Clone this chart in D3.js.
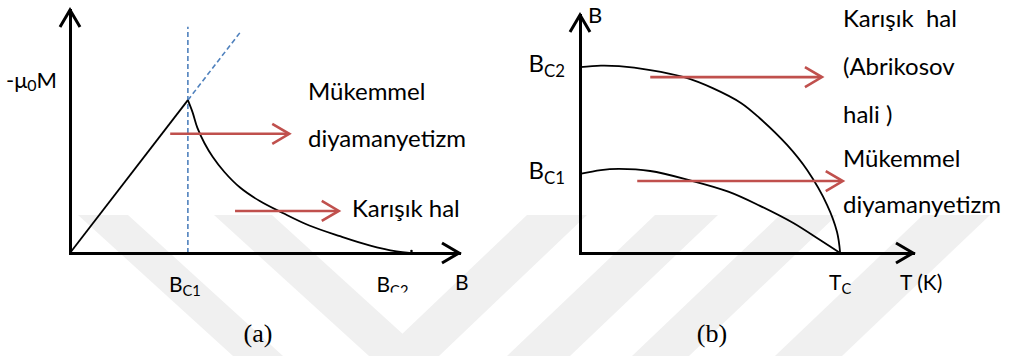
<!DOCTYPE html>
<html>
<head>
<meta charset="utf-8">
<script src="https://cdn.jsdelivr.net/npm/d3@7"></script>
<style>
  html, body { margin: 0; padding: 0; background: #fff; }
  svg { display: block; }
</style>
</head>
<body>
<svg id="chart" width="1010" height="356"></svg>
<script>
// ---------- (a) magnetisation -mu0 M versus applied field B ----------
const magMeissnerB = [0, 1];
const magMeissnerM = [0, 1];
const magMixedB = [1.00, 1.04, 1.08, 1.14, 1.21, 1.31, 1.44, 1.61, 1.81, 2.03, 2.29, 2.54, 2.77, 2.88];
const magMixedM = [1.00, 0.92, 0.82, 0.72, 0.63, 0.53, 0.43, 0.34, 0.26, 0.18, 0.11, 0.05, 0.01, 0.00];
const magGuideB = [1, 1.45];
const magGuideM = [1, 1.45];
const magTickValues = [1, 2.88];
const magTickSubs = ["C1", "C2"];
const magArrowFrom = [0.85, 1.40];
const magArrowTo = [1.86, 2.28];
const magArrowAt = [0.78, 0.275];
const magRegionText = ["Mükemmel", "diyamanyetizm", "Karışık hal"];

// ---------- (b) B-T phase diagram ----------
const phaseBc2T = [0, 0.08, 0.15, 0.27, 0.40, 0.51, 0.62, 0.69, 0.796, 0.873, 0.95, 0.988, 1.00];
const phaseBc2 = [1.00, 1.008, 1.005, 0.984, 0.946, 0.887, 0.806, 0.726, 0.581, 0.446, 0.258, 0.113, 0];
const phaseBc1T = [0, 0.08, 0.15, 0.27, 0.42, 0.57, 0.69, 0.82, 0.92, 1.00];
const phaseBc1 = [0.425, 0.446, 0.452, 0.441, 0.392, 0.330, 0.255, 0.161, 0.072, 0];
const phaseTickValues = [1.0, 0.425];
const phaseTickSubs = ["C2", "C1"];
const phaseTc = 1;
const phaseArrowFrom = [0.27, 0.22];
const phaseArrowTo = [0.93, 1.01];
const phaseArrowAt = [0.946, 0.387];
const phaseRegionText = ["Karışık  hal", "(Abrikosov", "hali )", "Mükemmel", "diyamanyetizm"];

// ---------- styling ----------
const SANS = "Lato, 'Open Sans', sans-serif";
const SERIF = "'Liberation Serif', 'Times New Roman', serif";
const RED = "#c0504d";
const BLUE = "#4f81bd";
const WATERMARK = "#f0f0f0";

const svg = d3.select("#chart");

// faint background emblem
const wmTop = 215, wmBottom = 356;
const wmFall = [[78, 128], [214, 272]];
const wmRise = [[527, 587], [655, 718], [780, 837], [923, 990]];
const wm = svg.append("g");
wmFall.forEach(([a, b]) => {
  const d = 155;
  wm.append("polygon").attr("fill", WATERMARK)
    .attr("points", [[a, wmTop], [b, wmTop], [b + d, wmBottom], [a + d, wmBottom]].join(" "));
});
wmRise.forEach(([a, b]) => {
  const d = -148;
  wm.append("polygon").attr("fill", WATERMARK)
    .attr("points", [[a, wmTop], [b, wmTop], [b + d, wmBottom], [a + d, wmBottom]].join(" "));
});

// open chevron head for arrows
function chevron(g, x, y, dir, back, half, color, width) {
  const pts = dir === "right"
    ? [[x - back, y - half], [x, y], [x - back, y + half]]
    : [[x - half, y + back], [x, y], [x + half, y + back]];
  g.append("path").attr("d", d3.line()(pts))
    .attr("fill", "none").attr("stroke", color).attr("stroke-width", width)
    .attr("stroke-linejoin", "miter").attr("stroke-linecap", "butt");
}

// text with an optional subscript part
function label(g, x, y, main, sub, size, anchor) {
  const t = g.append("text").attr("x", x).attr("y", y)
    .attr("font-family", SANS).attr("font-size", size).attr("fill", "#000")
    .attr("text-anchor", anchor || "start");
  t.append("tspan").text(main);
  if (sub) t.append("tspan").attr("font-size", size * 0.7).attr("dy", size * 0.2).text(sub);
  return t;
}

function axisPair(g, x, y) {
  const xAxis = g.append("g").attr("transform", `translate(0,${y.range()[0]})`)
    .call(d3.axisBottom(x).tickValues([]).tickSizeOuter(0));
  const yAxis = g.append("g").attr("transform", `translate(${x.range()[0]},0)`)
    .call(d3.axisLeft(y).tickValues([]).tickSizeOuter(0));
  [xAxis, yAxis].forEach(a => a.select(".domain")
    .attr("stroke", "#000").attr("stroke-width", 3).attr("stroke-linecap", "square"));
  chevron(g, x.range()[1], y.range()[0], "right", 17, 10, "#000", 3);
  chevron(g, x.range()[0], y.range()[1], "up", 17, 10, "#000", 3);
}

function regionArrows(g, x, y, from, to, at) {
  from.forEach((f, i) => {
    const yy = y(at[i]);
    g.append("line").attr("x1", x(f)).attr("x2", x(to[i]) - 1).attr("y1", yy).attr("y2", yy)
      .attr("stroke", RED).attr("stroke-width", 2.6);
    chevron(g, x(to[i]), yy, "right", 17, 10, RED, 2.6);
  });
}

// ================= panel (a) =================
const xA = d3.scaleLinear().domain([0, 3.3]).range([70, 459]);
const yA = d3.scaleLinear().domain([0, 1.59]).range([253, 10]);
const gA = svg.append("g");

// guides at B_C1
gA.append("line").attr("x1", xA(1)).attr("x2", xA(1)).attr("y1", yA(0)).attr("y2", yA(1.48))
  .attr("stroke", BLUE).attr("stroke-width", 1.6).attr("stroke-dasharray", "5,3");
gA.append("path").attr("d", d3.line().x(d => xA(d[0])).y(d => yA(d[1]))(d3.zip(magGuideB, magGuideM)))
  .attr("fill", "none").attr("stroke", BLUE).attr("stroke-width", 1.6).attr("stroke-dasharray", "5,3");

axisPair(gA, xA, yA);

const lineA = d3.line().x(d => xA(d[0])).y(d => yA(d[1]));
gA.append("path").attr("d", lineA(d3.zip(magMeissnerB, magMeissnerM)))
  .attr("fill", "none").attr("stroke", "#000").attr("stroke-width", 1.8);
gA.append("path").attr("d", lineA.curve(d3.curveCatmullRom.alpha(0.5))(d3.zip(magMixedB, magMixedM)))
  .attr("fill", "none").attr("stroke", "#000").attr("stroke-width", 1.8);
gA.append("circle").attr("cx", xA(magTickValues[1]) + 2).attr("cy", yA(0) - 2).attr("r", 1.3).attr("fill", "#000");

regionArrows(gA, xA, yA, magArrowFrom, magArrowTo, magArrowAt);

// axis titles
const muLabel = gA.append("text").attr("x", 6).attr("y", 88)
  .attr("font-family", SANS).attr("font-size", 22).attr("fill", "#000");
muLabel.append("tspan").text("-μ");
muLabel.append("tspan").attr("font-size", 16).attr("dy", 3).text("0");
muLabel.append("tspan").attr("dy", -3).text("M");
label(gA, 455, 290, "B", null, 21);

// critical field labels
svg.append("defs").append("clipPath").attr("id", "cutBc2")
  .append("rect").attr("x", 360).attr("y", 260).attr("width", 70).attr("height", 32.5);
const magTickDx = [-3, -17];
magTickValues.forEach((v, i) => {
  const t = label(gA, xA(v) + magTickDx[i], 292, "B", magTickSubs[i], 21, "middle");
  if (i === 1) t.attr("clip-path", "url(#cutBc2)");
});

label(gA, 308, 100, magRegionText[0], null, 24);
label(gA, 308, 147, magRegionText[1], null, 24);
label(gA, 352, 217, magRegionText[2], null, 24);

gA.append("text").attr("x", 258).attr("y", 342).attr("text-anchor", "middle")
  .attr("font-family", SERIF).attr("font-size", 26).text("(a)");

// ================= panel (b) =================
const xB = d3.scaleLinear().domain([0, 1.28]).range([580, 913]);
const yB = d3.scaleLinear().domain([0, 1.28]).range([253, 15]);
const gB = svg.append("g");

axisPair(gB, xB, yB);

const lineB = d3.line().x(d => xB(d[0])).y(d => yB(d[1])).curve(d3.curveCatmullRom.alpha(0.5));
gB.append("path").attr("d", lineB(d3.zip(phaseBc2T, phaseBc2)))
  .attr("fill", "none").attr("stroke", "#000").attr("stroke-width", 1.8);
gB.append("path").attr("d", lineB(d3.zip(phaseBc1T, phaseBc1)))
  .attr("fill", "none").attr("stroke", "#000").attr("stroke-width", 1.8);

regionArrows(gB, xB, yB, phaseArrowFrom, phaseArrowTo, phaseArrowAt);

phaseTickValues.forEach((v, i) => {
  label(gB, 565, yB(v) + 5, "B", phaseTickSubs[i], 24, "end");
});
label(gB, xB(phaseTc), 290, "T", "C", 21, "middle");
label(gB, 588, 23, "B", null, 22);
label(gB, 900, 290, "T (K)", null, 21);

const phaseTextY = [27, 75, 123, 167, 213];
phaseRegionText.forEach((s, i) => {
  label(gB, 843, phaseTextY[i], s, null, 24).style("white-space", "pre");
});

gB.append("text").attr("x", 712).attr("y", 342).attr("text-anchor", "middle")
  .attr("font-family", SERIF).attr("font-size", 26).text("(b)");
</script>
</body>
</html>
